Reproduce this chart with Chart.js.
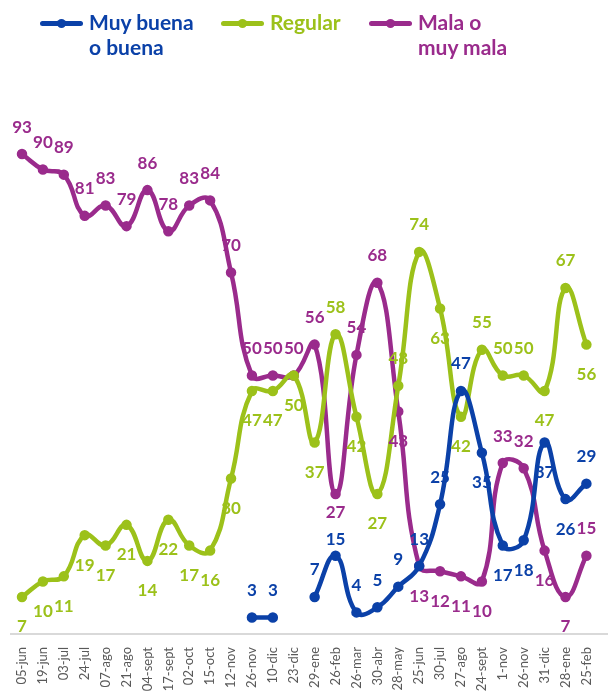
<!DOCTYPE html>
<html>
<head>
<meta charset="utf-8">
<script src="https://cdn.jsdelivr.net/npm/chart.js@4.4.1/dist/chart.umd.min.js"></script>
<style>
  html, body { margin: 0; padding: 0; background: #fff; }
  #wrap { position: relative; width: 608px; height: 694px; }
  .lg { position: absolute; top: 9px; font: bold 21px Lato, sans-serif; line-height: 25px; }
  .mk { position: absolute; top: 21px; width: 43px; height: 5px; border-radius: 3px; }
  .mk::after { content: ""; position: absolute; left: 17px; top: -2px; width: 9px; height: 9px; border-radius: 50%; background: inherit; }
</style>
</head>
<body>
<div id="wrap">
  <canvas id="myChart" width="608" height="694"></canvas>
  <div class="mk" style="left:40px;background:#0b41a8"></div>
  <div class="lg" style="left:89px;color:#0b41a8">Muy buena<br>o buena</div>
  <div class="mk" style="left:221px;background:#9cc11a"></div>
  <div class="lg" style="left:270px;color:#9cc11a">Regular</div>
  <div class="mk" style="left:369px;background:#9a2b8c"></div>
  <div class="lg" style="left:418px;color:#9a2b8c">Mala o<br>muy mala</div>
</div>
<script>
let fechas = ["05-jun", "19-jun", "03-jul", "24-jul", "07-ago", "21-ago", "04-sept", "17-sept", "02-oct", "15-oct",
  "12-nov", "26-nov", "10-dic", "23-dic", "29-ene", "26-feb", "26-mar", "30-abr", "28-may", "25-jun",
  "30-jul", "27-ago", "24-sept", "1-nov", "26-nov", "31-dic", "28-ene", "25-feb"];

let buena = [null, null, null, null, null, null, null, null, null, null,
  null, 3, 3, null, 7, 15, 4, 5, 9, 13, 25, 47, 35, 17, 18, 37, 26, 29];
let regular = [7, 10, 11, 19, 17, 21, 14, 22, 17, 16, 30, 47, 47, 50, 37, 58, 42, 27, 48, 74,
  63, 42, 55, 50, 50, 47, 67, 56];
let mala = [93, 90, 89, 81, 83, 79, 86, 78, 83, 84, 70, 50, 50, 50, 56, 27, 54, 68, 43, 13,
  12, 11, 10, 33, 32, 16, 7, 15];

// where each value label sits: a = above, b = below, A / B = closer to the point
const posBuena = ["a","a","a","a","a","a","a","a","a","a","a","a","a","a","a","A","a","a","a","a","a","a","b","b","b","b","b","a"];
const posRegular = ["b","b","b","b","b","b","b","b","b","b","b","b","b","b","b","a","b","b","a","a","b","b","a","a","a","b","a","b"];
const posMala = ["a","a","a","a","a","a","a","a","a","a","a","a","a","a","a","B","a","a","b","b","b","b","b","a","a","b","b","a"];
const shift = { a: -27, b: 30, A: -16, B: 19 };

const colBuena = "#0b41a8";
const colRegular = "#9cc11a";
const colMala = "#9a2b8c";

const axisLine = {
  id: "axisLine",
  beforeDatasetsDraw(chart) {
    const ctx = chart.ctx;
    const y = chart.chartArea.bottom + 1;
    ctx.save();
    ctx.strokeStyle = "#d9d9d9";
    ctx.lineWidth = 2;
    ctx.beginPath();
    ctx.moveTo(10, y);
    ctx.lineTo(608, y);
    ctx.stroke();
    ctx.restore();
  }
};

const valueLabels = {
  id: "valueLabels",
  afterDatasetsDraw(chart) {
    const ctx = chart.ctx;
    const places = [posBuena, posRegular, posMala];
    ctx.save();
    ctx.font = "bold 17px Lato, sans-serif";
    ctx.textAlign = "center";
    ctx.textBaseline = "middle";
    chart.data.datasets.forEach(function (ds, i) {
      const meta = chart.getDatasetMeta(i);
      ctx.fillStyle = ds.borderColor;
      meta.data.forEach(function (pt, j) {
        const v = ds.data[j];
        if (v === null) return;
        ctx.fillText(String(v), pt.x, pt.y + shift[places[i][j]]);
      });
    });
    ctx.restore();
  }
};

function serie(label, data, color) {
  return {
    label: label,
    data: data,
    borderColor: color,
    backgroundColor: color,
    borderWidth: 4.5,
    pointRadius: 3,
    pointHoverRadius: 3,
    tension: 0.45,
    spanGaps: false
  };
}

new Chart("myChart", {
  type: "line",
  data: {
    labels: fechas,
    datasets: [
      serie("Muy buena o buena", buena, colBuena),
      serie("Regular", regular, colRegular),
      serie("Mala o muy mala", mala, colMala)
    ]
  },
  options: {
    responsive: false,
    animation: false,
    layout: { padding: { top: 118, left: 22, right: 9, bottom: 0 } },
    plugins: { legend: { display: false }, tooltip: { enabled: false } },
    scales: {
      x: {
        offset: false,
        grid: { display: false },
        border: { display: false },
        ticks: {
          color: "#595959",
          font: { family: "Lato", size: 13 },
          minRotation: 90,
          maxRotation: 90,
          autoSkip: false,
          padding: 6
        },
        afterFit(scale) { scale.height = 61; }
      },
      y: {
        display: false,
        min: 0,
        max: 100
      }
    }
  },
  plugins: [axisLine, valueLabels]
});
</script>
</body>
</html>
